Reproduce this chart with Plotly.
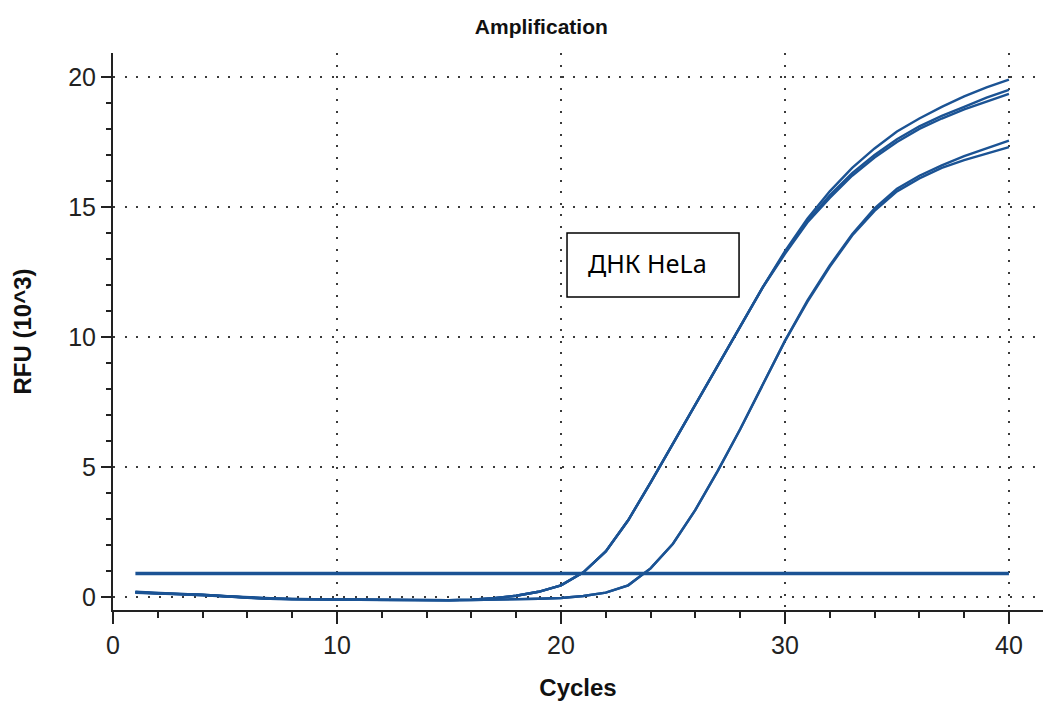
import plotly.graph_objects as go

cycles = list(range(1, 41))

early_a = [0.20, 0.15, 0.12, 0.09, 0.03, -0.02, -0.06, -0.08, -0.08, -0.09,
           -0.10, -0.11, -0.12, -0.12, -0.12, -0.10, -0.05, 0.05, 0.20, 0.45,
           0.95, 1.75, 2.95, 4.40, 5.90, 7.45, 8.95, 10.45, 11.90, 13.30,
           14.55, 15.60, 16.50, 17.25, 17.90, 18.40, 18.85, 19.25, 19.60, 19.90]
early_b = [0.19, 0.14, 0.12, 0.09, 0.03, -0.02, -0.06, -0.08, -0.08, -0.09,
           -0.10, -0.11, -0.12, -0.12, -0.12, -0.10, -0.05, 0.05, 0.20, 0.45,
           0.95, 1.75, 2.95, 4.40, 5.90, 7.45, 8.95, 10.45, 11.90, 13.25,
           14.45, 15.45, 16.30, 17.00, 17.60, 18.10, 18.50, 18.85, 19.20, 19.50]
early_c = [0.18, 0.14, 0.11, 0.08, 0.03, -0.02, -0.06, -0.08, -0.08, -0.09,
           -0.10, -0.11, -0.12, -0.12, -0.12, -0.10, -0.05, 0.05, 0.20, 0.45,
           0.95, 1.75, 2.95, 4.40, 5.90, 7.45, 8.95, 10.45, 11.90, 13.20,
           14.40, 15.35, 16.20, 16.90, 17.50, 18.00, 18.40, 18.75, 19.05, 19.35]
later_a = [0.17, 0.13, 0.11, 0.08, 0.02, -0.03, -0.07, -0.09, -0.09, -0.10,
           -0.11, -0.12, -0.13, -0.13, -0.13, -0.12, -0.11, -0.09, -0.07, -0.04,
           0.04, 0.17, 0.45, 1.10, 2.05, 3.35, 4.85, 6.45, 8.15, 9.85,
           11.40, 12.75, 13.95, 14.95, 15.70, 16.20, 16.60, 16.95, 17.25, 17.55]
later_b = [0.16, 0.12, 0.10, 0.07, 0.02, -0.03, -0.07, -0.09, -0.09, -0.10,
           -0.11, -0.12, -0.13, -0.13, -0.13, -0.12, -0.11, -0.09, -0.07, -0.04,
           0.04, 0.17, 0.45, 1.10, 2.05, 3.35, 4.85, 6.45, 8.15, 9.85,
           11.35, 12.70, 13.90, 14.85, 15.60, 16.10, 16.50, 16.80, 17.05, 17.30]
threshold = 0.9

x_ticks = [0, 10, 20, 30, 40]
y_ticks = [0, 5, 10, 15, 20]
x_range = [0, 41.52]
y_range = [-0.5, 20.92]

LINE = "#1b5394"
AXC = "#222222"

fig = go.Figure()
for ys in [early_a, early_b, early_c, later_a, later_b]:
    fig.add_trace(go.Scatter(x=cycles, y=ys, mode="lines",
                             line=dict(color=LINE, width=2.4), showlegend=False,
                             hoverinfo="skip"))
fig.add_trace(go.Scatter(x=[cycles[0], cycles[-1]], y=[threshold, threshold],
                         mode="lines", line=dict(color=LINE, width=3.5),
                         showlegend=False, hoverinfo="skip"))

grid = dict(showgrid=True, gridcolor="#3a3a3a", gridwidth=2, griddash="2px,9.5px")

fig.update_layout(
    width=1043, height=706,
    margin=dict(l=113, r=0, t=53, b=96),
    plot_bgcolor="white", paper_bgcolor="white",
    font=dict(family="Liberation Sans, Arial, sans-serif", color=AXC),
    title=dict(text="<b>Amplification</b>", x=0.519, xref="container", xanchor="center",
               y=1 - 27 / 706, yref="container", yanchor="middle",
               font=dict(size=21, color="#111111")),
    xaxis=dict(range=x_range, tickvals=x_ticks, ticks="outside", ticklen=12, tickwidth=2,
               tickcolor=AXC, showline=True, linecolor=AXC, linewidth=2,
               minor=dict(dtick=2, tick0=0, ticks="outside", ticklen=6, tickwidth=2,
                          tickcolor=AXC, showgrid=False),
               tickfont=dict(size=25, color="#222222"), zeroline=False,
               title=dict(text="<b>Cycles</b>", font=dict(size=24, color="#111111"), standoff=21),
               **grid),
    xaxis2=dict(range=x_range, overlaying="x", side="top", anchor="y", tickvals=x_ticks,
                ticks="inside", ticklen=9, tickwidth=2, tickcolor=AXC, showticklabels=False,
                showline=True, linecolor=AXC, linewidth=2, showgrid=False, zeroline=False,
                minor=dict(dtick=2, tick0=0, ticks="inside", ticklen=5, tickwidth=2,
                           tickcolor=AXC, showgrid=False)),
    xaxis3=dict(range=x_range, overlaying="x", side="bottom", anchor="y", tickvals=x_ticks,
                ticks="inside", ticklen=8, tickwidth=2, tickcolor=AXC, showticklabels=False,
                showline=False, showgrid=False, zeroline=False,
                minor=dict(dtick=2, tick0=0, ticks="inside", ticklen=3, tickwidth=2,
                           tickcolor=AXC, showgrid=False)),
    yaxis=dict(range=y_range, tickvals=y_ticks, ticks="outside", ticklen=10, tickwidth=2,
               tickcolor=AXC, showline=True, linecolor=AXC, linewidth=2,
               minor=dict(dtick=1, tick0=0, ticks="outside", ticklen=5, tickwidth=2,
                          tickcolor=AXC, showgrid=False),
               tickfont=dict(size=25, color="#222222"), zeroline=False,
               title=dict(text="<b>RFU (10^3)</b>", font=dict(size=24, color="#111111"), standoff=30),
               **grid),
    yaxis2=dict(range=y_range, overlaying="y", side="left", anchor="x", tickvals=y_ticks,
                ticks="inside", ticklen=12, tickwidth=2, tickcolor=AXC, showticklabels=False,
                showline=False, showgrid=False, zeroline=False,
                minor=dict(dtick=1, tick0=0, ticks="inside", ticklen=5, tickwidth=2,
                           tickcolor=AXC, showgrid=False)),
)

# label box "ДНК HeLa"
fig.add_shape(type="rect", x0=20.27, x1=27.95, y0=11.54, y1=14.0, xref="x", yref="y",
              line=dict(color="black", width=1.5), fillcolor="white", layer="above")
fig.add_annotation(x=21.1, y=12.85, xref="x", yref="y", text="ДНК HeLa", showarrow=False,
                   xanchor="left", yanchor="middle",
                   font=dict(family="Noto Sans, Open Sans, sans-serif", size=25, color="black"))

fig.write_html("out.html")
